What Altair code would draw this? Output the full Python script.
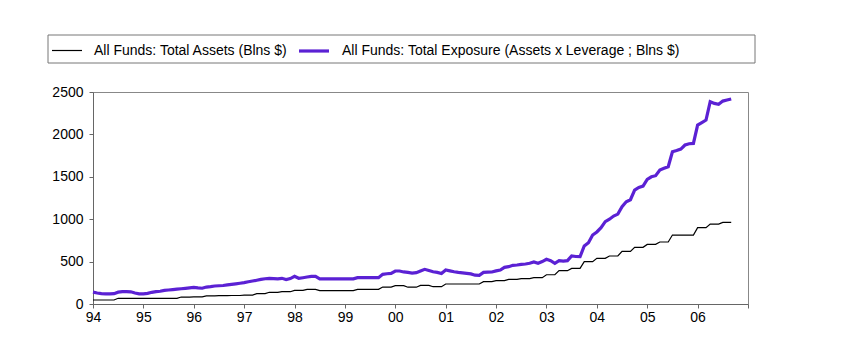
import altair as alt
import pandas as pd

# Monthly values, Jan 1994 .. Sep 2006 (billions $)
assets = (
    [47, 47, 47, 47, 47, 47, 67, 67, 67, 67, 67, 67]            # 1994
    + [67, 67, 67, 67, 67, 67, 67, 67, 67, 82, 82, 82]          # 1995
    + [84, 84, 84, 96, 96, 96, 98, 98, 98, 100, 100, 100]       # 1996
    + [104, 104, 104, 122, 122, 122, 138, 138, 138, 145, 145, 145]  # 1997
    + [160, 160, 160, 173, 173, 173, 157, 157, 157, 157, 157, 157]  # 1998
    + [157, 157, 157, 173, 173, 173, 173, 173, 173, 200, 200, 200]  # 1999
    + [216, 216, 216, 198, 198, 198, 220, 220, 220, 204, 204, 204]  # 2000
    + [236, 236, 236, 236, 236, 236, 236, 236, 236, 263, 263, 263]  # 2001
    + [275, 275, 275, 290, 290, 290, 300, 300, 300, 310, 310, 310]  # 2002
    + [345, 345, 345, 393, 393, 393, 420, 420, 420, 499, 499, 499]  # 2003
    + [538, 538, 538, 566, 566, 566, 620, 620, 620, 668, 668, 668]  # 2004
    + [703, 703, 703, 731, 731, 731, 813, 813, 813, 813, 813, 813]  # 2005
    + [900, 900, 900, 943, 943, 943, 963, 963, 963]                 # 2006
)

exposure = (
    [140, 130, 122, 120, 120, 122, 140, 145, 145, 144, 130, 120]    # 1994
    + [120, 125, 138, 145, 150, 160, 165, 170, 175, 180, 185, 190]  # 1995
    + [196, 190, 186, 200, 205, 212, 215, 218, 225, 232, 238, 245]  # 1996
    + [252, 262, 271, 280, 290, 298, 303, 300, 297, 303, 289, 300]  # 1997
    + [326, 303, 310, 318, 326, 326, 297, 297, 297, 297, 297, 297]  # 1998
    + [297, 297, 297, 310, 310, 310, 310, 310, 310, 350, 357, 360]  # 1999
    + [389, 389, 378, 373, 365, 370, 390, 409, 395, 380, 373, 360]  # 2000
    + [401, 390, 380, 373, 368, 362, 355, 340, 338, 373, 375, 377]  # 2001
    + [390, 401, 432, 440, 456, 460, 468, 472, 480, 495, 480, 500]  # 2002
    + [527, 511, 480, 511, 505, 511, 566, 560, 558, 684, 723, 813]  # 2003
    + [850, 900, 971, 1000, 1037, 1060, 1148, 1206, 1230, 1344, 1375, 1390]  # 2004
    + [1470, 1500, 1513, 1580, 1600, 1619, 1796, 1810, 1827, 1875, 1890, 1894]  # 2005
    + [2110, 2140, 2169, 2386, 2366, 2355, 2393, 2405, 2417]        # 2006
)

series_names = [
    "All Funds: Total Assets (Blns $)",
    "All Funds: Total Exposure (Assets x Leverage ; Blns $)",
]
series_colors = ["#000000", "#5b21d4"]
series_widths = [1.2, 3.2]
x_ticks = list(range(1994, 2008))
y_ticks = [0, 500, 1000, 1500, 2000, 2500]

months = [1994 + m / 12 for m in range(len(assets))]
rows = []
for name, vals in zip(series_names, [assets, exposure]):
    for t, v in zip(months, vals):
        rows.append({"t": t, "v": v, "series": name})
df = pd.DataFrame(rows)

legend = alt.Legend(
    orient="none", legendX=-42, legendY=-58, direction="horizontal",
    title=None, symbolType="stroke", symbolSize=900, labelFontSize=14,
    labelOffset=11, columnPadding=4, labelLimit=0, labelColor="#000",
    padding=0,
)

lines = alt.Chart(df).mark_line(clip=False).encode(
    x=alt.X("t:Q",
            scale=alt.Scale(domain=[1994, 2007], nice=False, zero=False),
            axis=alt.Axis(values=x_ticks, title=None, grid=False, tickSize=4,
                          labelPadding=2, labelFontSize=14, labelColor="#000",
                          labelFlush=False, labelOverlap=False,
                          domainColor="#666", tickColor="#666",
                          labelExpr="datum.value < 2007 ? substring(toString(datum.value), 2, 4) : ''")),
    y=alt.Y("v:Q",
            scale=alt.Scale(domain=[0, 2500], nice=False),
            axis=alt.Axis(values=y_ticks, title=None, grid=False, tickSize=4,
                          labelPadding=6, labelFontSize=14, labelColor="#000",
                          domainColor="#666", tickColor="#666", format="d")),
    color=alt.Color("series:N", scale=alt.Scale(domain=series_names, range=series_colors), legend=legend),
    strokeWidth=alt.StrokeWidth("series:N", scale=alt.Scale(domain=series_names, range=series_widths), legend=legend),
)

box = alt.Chart(pd.DataFrame({"a": [0]})).mark_rect(
    fillOpacity=0, stroke="#777", strokeWidth=1, clip=False
).encode(
    x=alt.value(-45), x2=alt.value(662), y=alt.value(-57), y2=alt.value(-29)
)

chart = alt.layer(box, lines).properties(
    width=655, height=212,
    autosize=alt.AutoSizeParams(type="none"),
    padding={"left": 85, "top": 84, "right": 20, "bottom": 40},
).configure(
    font="Liberation Sans"
).configure_view(
    stroke="#888", strokeWidth=1
)

chart.save("out.html", embed_options={"renderer": "svg", "actions": False})
